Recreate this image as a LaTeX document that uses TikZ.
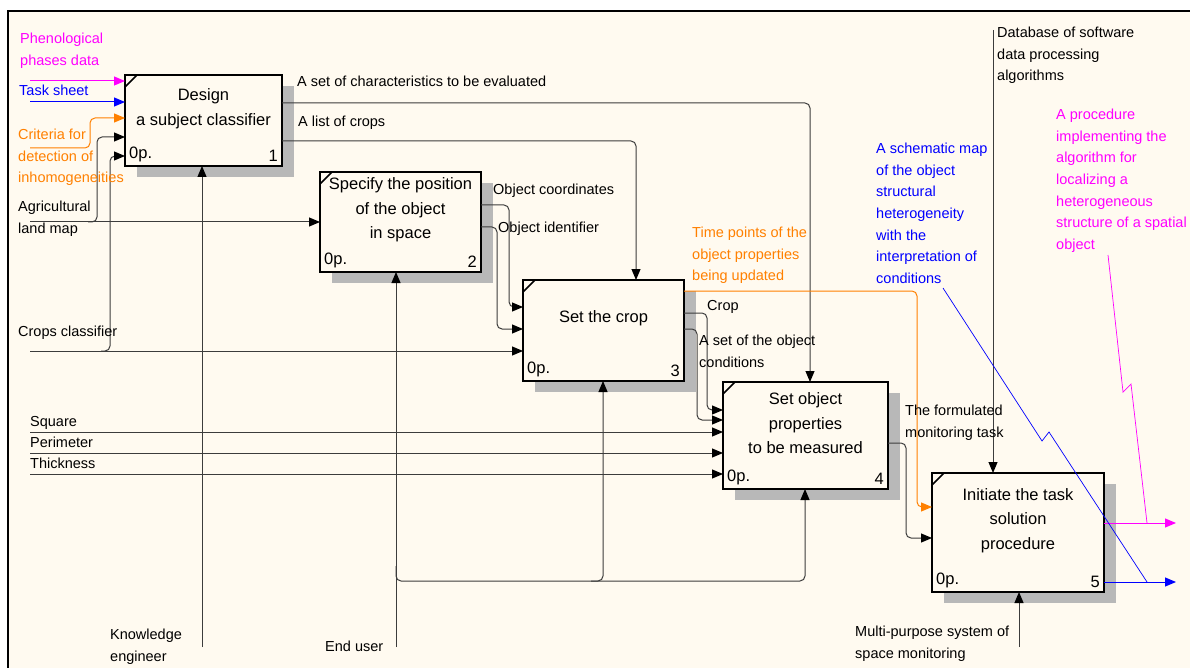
\documentclass[tikz,border=0pt]{standalone}
\usepackage{fontspec}
\setmainfont{Liberation Sans}
\usetikzlibrary{arrows.meta,patterns,shadows,positioning}

\definecolor{paper}{RGB}{255,250,240}
\definecolor{pink}{RGB}{255,0,255}
\definecolor{idefblue}{RGB}{0,0,255}
\definecolor{idefor}{RGB}{255,128,0}
\definecolor{wirecol}{RGB}{60,60,60}

\tikzset{
  func/.style={draw=black, line width=2.2pt, fill=paper, inner sep=0pt, outer sep=0pt,
    anchor=north west,
    general shadow={shadow xshift=12pt, shadow yshift=-11pt, fill=black!28},
    label={[corner, anchor=south west]south west:0p.}},
  corner/.style={font=\fontsize{16.5}{20}\selectfont, inner sep=4pt},
  ftext/.style={font=\fontsize{16.5}{24.5}\selectfont, align=center, inner sep=0pt},
  lbl/.style={font=\fontsize{14.5}{21.6}\selectfont, align=left, inner sep=0pt, anchor=north west},
  wire/.style={draw=wirecol, line width=1pt, rounded corners=5pt},
  arr/.style={wire, -{Triangle[length=11pt,width=9pt,black]}},
  carr/.style={line width=1pt, rounded corners=5pt, -{Triangle[length=11pt,width=9pt]}},
  squig/.style={line width=0.7pt},
}

\begin{document}
\begin{tikzpicture}[x=1pt, y=-1pt]
  \useasboundingbox (0,0) rectangle (1190,668);
  % sheet
  \fill[paper] (8,11) rectangle (1190,668);
  \draw[line width=1.2pt] (8,668) -- (8,11) -- (1190,11);

  % function boxes
  \node[func, minimum width=157pt, minimum height=91pt,
    label={[corner, anchor=south east]south east:1}] (b1) at (125,75) {};
  \node[func, minimum width=161pt, minimum height=100pt,
    label={[corner, anchor=south east]south east:2}] (b2) at (320,172) {};
  \node[func, minimum width=161pt, minimum height=101pt,
    label={[corner, anchor=south east]south east:3}] (b3) at (523,280) {};
  \node[func, minimum width=165pt, minimum height=107pt,
    label={[corner, anchor=south east]south east:4}] (b4) at (723,382) {};
  \node[func, minimum width=172pt, minimum height=119pt,
    label={[corner, anchor=south east]south east:5}] (b5) at (932,473) {};
  \foreach \b in {b1,b2,b3,b4,b5}
    \draw[line width=1.5pt] ([yshift=-12pt]\b.north west) -- ([xshift=12pt]\b.north west);

  \node[ftext] (t1) at ([yshift=12pt]b1.center) {Design\\a subject classifier};
  \node[ftext] (t2) at ([yshift=12pt]b2.center) {Specify the position\\of the object\\in space};
  \node[ftext] (t3) at ([yshift=12pt]b3.center) {Set the crop};
  \node[ftext] (t4) at ([yshift=12pt]b4.center) {Set object\\properties\\to be measured};
  \node[ftext] (t5) at ([yshift=12pt]b5.center) {Initiate the task\\solution\\procedure};

  % free ends
  \coordinate (phen) at (30,81);
  \coordinate (task) at (30,102);
  \coordinate (crit) at (30,148);
  \coordinate (agri) at (30,222);
  \coordinate (agrij) at (88,222);
  \coordinate (crcl) at (30,351);
  \coordinate (crclj) at (101,351);
  \coordinate (sq) at (30,432);
  \coordinate (per) at (30,453);
  \coordinate (thk) at (30,474);
  \coordinate (know) at (202,647);
  \coordinate (eu) at (396,647);
  \coordinate (euj) at (396,566);
  \coordinate (eubus) at (603,581);
  \coordinate (eubus2) at (805,581);
  \coordinate (db) at (993,30);
  \coordinate (mps) at (1019,647);
  \coordinate (outm) at (1176,523);
  \coordinate (outb) at (1176,582);

  % inputs
  \draw[carr, pink] (phen) -- (phen -| b1.west);
  \draw[carr, idefblue] (task) -- (task -| b1.west);
  \draw[carr, idefor] (crit) -- (90,148) |- ([yshift=-43pt]b1.north west);
  \draw[arr] (agri) -- (agri -| b2.west);
  \draw[arr] (agrij) -- (97,222) |- ([yshift=-62pt]b1.north west);
  \draw[arr] (crcl) -- (crcl -| b3.west);
  \draw[arr] (crclj) -- (110,351) |- ([yshift=-81pt]b1.north west);
  \draw[arr] (sq) -- (sq -| b4.west);
  \draw[arr] (per) -- (per -| b4.west);
  \draw[arr] (thk) -- (thk -| b4.west);

  % mechanisms
  \draw[arr] (know) -- (know |- b1.south);
  \draw[arr] (eu) -- (eu |- b2.south);
  \draw[arr] (euj) |- (eubus) -- (eubus |- b3.south);
  \draw[arr] ([xshift=-12pt]eubus) -- (eubus2) -- (eubus2 |- b4.south);
  \draw[arr] (mps) -- (mps |- b5.south);

  % controls and outputs
  \draw[arr] ([yshift=-28pt]b1.north east) -| ([xshift=87pt]b4.north west);
  \draw[arr] ([yshift=-66pt]b1.north east) -| ([xshift=113pt]b3.north west);
  \draw[arr] ([yshift=-33pt]b2.north east) -- ++(28,0) |- ([yshift=-27pt]b3.north west);
  \draw[arr] ([yshift=-55pt]b2.north east) -- ++(16,0) |- ([yshift=-49pt]b3.north west);
  \draw[carr, idefor] ([yshift=-11pt]b3.north east) -- ++(233,0) |- ([yshift=-34pt]b5.north west);
  \draw[arr] ([yshift=-33pt]b3.north east) -- ++(23,0) |- ([yshift=-28pt]b4.north west);
  \draw[arr] ([yshift=-49pt]b3.north east) -- ++(13,0) |- ([yshift=-38pt]b4.north west);
  \draw[arr] ([yshift=-61pt]b4.north east) -- ++(18,0) |- ([yshift=-65pt]b5.north west);
  \draw[arr] (db) -- (db |- b5.north);
  \draw[carr, pink] (outm -| b5.east) -- (outm);
  \draw[carr, idefblue] (outb -| b5.east) -- (outb);

  % arrow labels
  \node[lbl, text=pink] (lphen) at (20,33) {Phenological\\phases data};
  \node[lbl, text=idefblue] (ltask) at (19,85) {Task sheet};
  \node[lbl, text=idefor] (lcrit) at (18,129) {Criteria for\\detection of\\inhomogeneities};
  \node[lbl] (lagri) at (18,201) {Agricultural\\land map};
  \node[lbl] (lcrcl) at (18,326) {Crops classifier};
  \node[lbl] (lsq) at (30,416) {Square};
  \node[lbl] (lper) at (30,437) {Perimeter};
  \node[lbl] (lthk) at (30,458) {Thickness};
  \node[lbl] (lknow) at (110,629) {Knowledge\\engineer};
  \node[lbl] (leu) at (325,641) {End user};
  \node[lbl] (lchr) at (297,76) {A set of characteristics to be evaluated};
  \node[lbl] (llist) at (298,116) {A list of crops};
  \node[lbl] (lcoord) at (493,184) {Object coordinates};
  \node[lbl] (lid) at (498,222) {Object identifier};
  \node[lbl] (lcrop) at (707,300) {Crop};
  \node[lbl] (lcond) at (699,335) {A set of the object\\conditions};
  \node[lbl, text=idefor] (ltime) at (692,227) {Time points of the\\object properties\\being updated};
  \node[lbl] (lform) at (905,405) {The formulated\\monitoring task};
  \node[lbl] (ldb) at (997,27) {Database of software\\data processing\\algorithms};
  \node[lbl, text=idefblue] (lmap) at (876,143) {A schematic map\\of the object\\structural\\heterogeneity\\with the\\interpretation of\\conditions};
  \node[lbl, text=pink] (lproc) at (1056,109) {A procedure\\implementing the\\algorithm for\\localizing a\\heterogeneous\\structure of a spatial\\object};
  \node[lbl] (lmps) at (855,626) {Multi-purpose system of\\space monitoring};

  % squiggles
  \draw[squig, idefblue] (943,288) -- (1042,441) -- (1049,432) -- (1147,582);
  \draw[squig, pink] (1108,255) -- (1123,392) -- (1131,384) -- (1147,523);
\end{tikzpicture}
\end{document}
